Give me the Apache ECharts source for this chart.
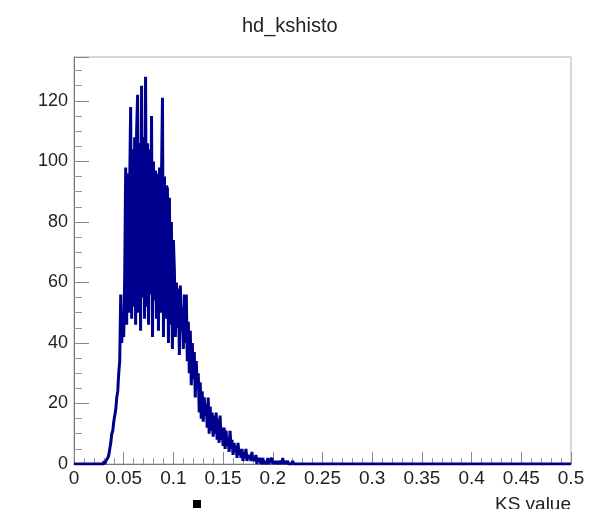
<!DOCTYPE html>
<html>
<head>
<meta charset="utf-8">
<script src="https://cdn.jsdelivr.net/npm/echarts@6/dist/echarts.min.js"></script>
<style>
  html, body { margin: 0; padding: 0; background: #fff; }
  #chart { width: 589px; height: 509px; }
</style>
</head>
<body>
<div id="chart"></div>
<script>
// hd_kshisto: distribution of KS values, 0.001-wide bins over [0, 0.5]
const histTitle = 'hd_kshisto';
const xTitle = 'KS value';
const xMin = 0, xMax = 0.5, binWidth = 0.001;
const firstBin = 30;   // index of the first listed bin; bins outside the list are empty
const counts = [
  1, 0, 1, 1, 2, 3, 5, 7, 10, 11,
  14, 16, 18, 22, 24, 30, 34, 56, 40, 47,
  42, 62, 98, 46, 96, 50, 92, 118, 48, 104,
  52, 108, 46, 110, 122, 50, 106, 44, 125, 55,
  108, 48, 128, 52, 106, 46, 104, 56, 115, 42,
  100, 54, 97, 48, 96, 44, 98, 50, 94, 121,
  42, 95, 48, 92, 91, 40, 88, 46, 80, 38,
  74, 64, 42, 60, 45, 58, 36, 59, 44, 52,
  38, 56, 40, 56, 34, 47, 30, 44, 26, 40,
  28, 37, 22, 34, 25, 30, 17, 27, 15, 24,
  14, 22, 16, 20, 12, 22, 10, 19, 11, 17,
  9, 16, 10, 17, 8, 15, 7, 16, 8, 12,
  6, 12, 5, 11, 6, 9, 4, 11, 5, 8,
  3, 7, 4, 6, 2, 7, 3, 5, 2, 5,
  1, 4, 2, 5, 1, 3, 2, 3, 1, 4,
  1, 2, 1, 3, 0, 2, 1, 2, 0, 1,
  2, 0, 1, 1, 0, 2, 0, 1, 1, 2,
  0, 1, 0, 1, 0, 1, 0, 0, 1, 0,
  2, 0, 1, 0, 0, 1, 0, 0, 0, 0,
  1, 0
];
const xTickLabels = ['0', '0.05', '0.1', '0.15', '0.2', '0.25', '0.3', '0.35', '0.4', '0.45', '0.5'];
const yTickLabels = ['0', '20', '40', '60', '80', '100', '120'];
const yMax = 134.5;

// step outline: each point is a bin's low edge with its content
const stepData = [[xMin, 0]];
counts.forEach((c, i) => {
  stepData.push([Number(((firstBin + i) * binWidth).toFixed(4)), c]);
});
stepData.push([xMax, 0]);

const FONT = '"Liberation Sans", Arial, Helvetica, sans-serif';
const chart = echarts.init(document.getElementById('chart'), null, { renderer: 'canvas' });
chart.setOption({
  animation: false,
  backgroundColor: '#ffffff',
  title: {
    text: histTitle,
    left: 237,
    top: 11,
    textStyle: { fontFamily: FONT, fontSize: 20, fontWeight: 'normal', color: '#222' }
  },
  grid: {
    left: 74, right: 18, top: 57, bottom: 45,
    outerBoundsMode: 'none',
    containLabel: false,
    show: true, borderColor: '#b0b0b0', borderWidth: 1, backgroundColor: 'transparent'
  },
  xAxis: {
    type: 'value',
    min: xMin, max: xMax, interval: 0.05,
    name: xTitle,
    nameLocation: 'end',
    nameGap: 0,
    nameTextStyle: {
      fontFamily: FONT, fontSize: 19, color: '#222',
      align: 'right', verticalAlign: 'top', padding: [31, 0, 0, 0]
    },
    axisLine: { show: true, lineStyle: { color: '#777', width: 1 } },
    axisTick: { show: true, inside: true, length: 12, lineStyle: { color: '#888' } },
    minorTick: { show: true, splitNumber: 5, length: 6, lineStyle: { color: '#999' } },
    splitLine: { show: false },
    axisLabel: {
      fontFamily: FONT, fontSize: 19, color: '#222', margin: 5,
      showMinLabel: true, showMaxLabel: true,
      formatter: v => {
        const k = Math.round(v / 0.05);
        return xTickLabels[k] !== undefined ? xTickLabels[k] : '';
      }
    }
  },
  yAxis: {
    type: 'value',
    min: 0, max: yMax, interval: 20,
    axisLine: { show: true, lineStyle: { color: '#777', width: 1 } },
    axisTick: { show: true, inside: true, length: 15, lineStyle: { color: '#888' } },
    minorTick: { show: true, splitNumber: 4, length: 8, lineStyle: { color: '#999' } },
    splitLine: { show: false },
    axisLabel: {
      fontFamily: FONT, fontSize: 18, color: '#222', margin: 6,
      showMaxLabel: false,
      formatter: v => {
        const k = Math.round(v / 20);
        return (Math.abs(v - k * 20) < 1e-6 && yTickLabels[k] !== undefined) ? yTickLabels[k] : '';
      }
    }
  },
  series: [{
    type: 'line',
    step: 'end',
    data: stepData,
    symbol: 'none',
    lineStyle: { color: '#00008f', width: 3 },
    z: 3
  }],
  graphic: [{
    type: 'rect',
    left: 193, top: 500,
    shape: { width: 8, height: 8 },
    style: { fill: '#000' }
  }]
});
</script>
</body>
</html>
